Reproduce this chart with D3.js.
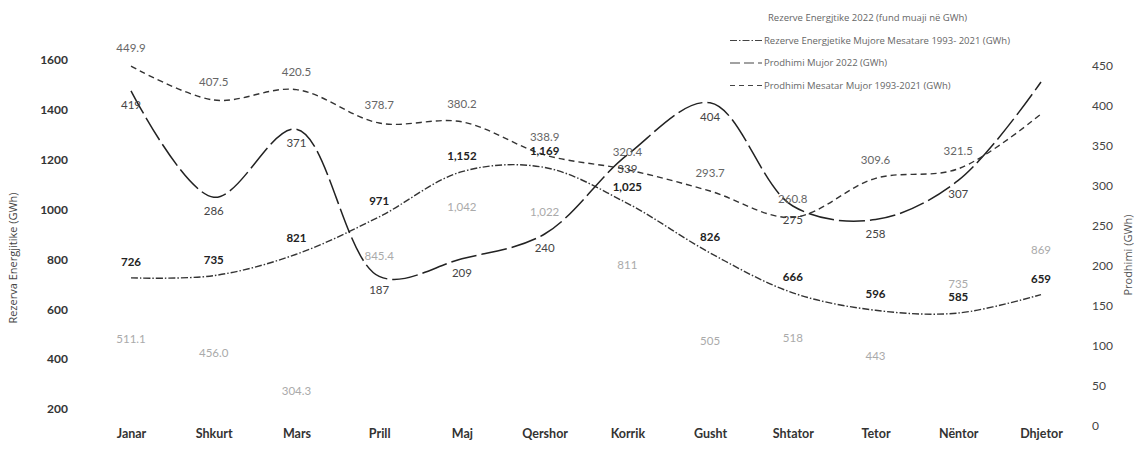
<!DOCTYPE html>
<html lang="en">
<head>
<meta charset="utf-8">
<script src="https://d3js.org/d3.v7.min.js"></script>
<style type="text/css">
body {
  margin: 0;
  background-color: #ffffff;
  font-family: Lato, "Open Sans", sans-serif;
}
.axis text {
  font: bold 12px Lato, sans-serif;
  fill: #333;
}
.axis path, .axis line { display: none; }
.legend text {
  font: 9.5px "Open Sans", sans-serif;
  fill: #666;
}
</style>
</head>
<body>
<script type="text/javascript">

// months
var months = ["Janar", "Shkurt", "Mars", "Prill", "Maj", "Qershor", "Korrik",
  "Gusht", "Shtator", "Tetor", "Nëntor", "Dhjetor"];

// reserves (left axis, GWh)
var rezMesatare = [726, 735, 821, 971, 1152, 1169, 1025, 826, 666, 596, 585, 659];
var rez2022 = [511.1, 456.0, 304.3, 845.4, 1042, 1022, 811, 505, 518, 443, 735, 869];
var rez2022Labels = ["511.1", "456.0", "304.3", "845.4", "1,042", "1,022", "811", "505", "518", "443", "735", "869"];

// production (right axis, GWh)
var prod2022 = [419, 286, 371, 187, 209, 240, 339, 404, 275, 258, 307, 430];
var prodMesatar = [449.9, 407.5, 420.5, 378.7, 380.2, 338.9, 320.4, 293.7, 260.8, 309.6, 321.5, 390];

var leftTicks = [200, 400, 600, 800, 1000, 1200, 1400, 1600];
var rightTicks = [0, 50, 100, 150, 200, 250, 300, 350, 400, 450];

var legendItems = [
  "Rezerve Energjtike  2022 (fund muaji në GWh)",
  "Rezerve Energjetike Mujore Mesatare 1993- 2021 (GWh)",
  "Prodhimi Mujor  2022 (GWh)",
  "Prodhimi Mesatar Mujor 1993-2021 (GWh)"
];

var width = 1139;
var height = 450;

var svg = d3.select("body")
  .append("svg")
  .attr("width", width)
  .attr("height", height);

var x = d3.scalePoint().domain(months).range([131, 1041]);
var yL = d3.scaleLinear().domain([200, 1600]).range([409, 60]);
var yR = d3.scaleLinear().domain([0, 450]).range([426, 66]);

// axes
svg.append("g")
  .attr("class", "axis")
  .attr("transform", "translate(72,0)")
  .call(d3.axisLeft(yL).tickValues(leftTicks).tickSize(0).tickPadding(4).tickFormat(d3.format("d")));

svg.append("g")
  .attr("class", "axis")
  .attr("transform", "translate(1088,0)")
  .call(d3.axisRight(yR).tickValues(rightTicks).tickSize(0).tickPadding(4))
  .selectAll("text").style("font-weight", "normal").style("fill", "#444");

svg.append("g")
  .attr("class", "axis")
  .attr("transform", "translate(0,423)")
  .call(d3.axisBottom(x).tickSize(0).tickPadding(6))
  .selectAll("text").style("font-size", "12.5px");

// axis titles
svg.append("text")
  .attr("transform", "translate(17,258) rotate(-90)")
  .attr("text-anchor", "middle")
  .style("font", "11px 'Open Sans', sans-serif")
  .style("fill", "#444")
  .text("Rezerva Energjitike (GWh)");

svg.append("text")
  .attr("transform", "translate(1132,255) rotate(-90)")
  .attr("text-anchor", "middle")
  .style("font", "11px 'Open Sans', sans-serif")
  .style("fill", "#555")
  .text("Prodhimi (GWh)");

// lines
var lineL = d3.line()
  .x(function(d, i) { return x(months[i]); })
  .y(function(d) { return yL(d); })
  .curve(d3.curveCatmullRom);

var lineR = d3.line()
  .x(function(d, i) { return x(months[i]); })
  .y(function(d) { return yR(d); })
  .curve(d3.curveCatmullRom);

svg.append("path").datum(rezMesatare)
  .attr("d", lineL).attr("fill", "none")
  .attr("stroke", "#333").attr("stroke-width", 1.4)
  .attr("stroke-dasharray", "7,2,1.5,2");

svg.append("path").datum(prod2022)
  .attr("d", lineR).attr("fill", "none")
  .attr("stroke", "#222").attr("stroke-width", 1.5)
  .attr("stroke-dasharray", "26,5");

svg.append("path").datum(prodMesatar)
  .attr("d", lineR).attr("fill", "none")
  .attr("stroke", "#333").attr("stroke-width", 1.4)
  .attr("stroke-dasharray", "6,4");

// value labels
function labels(data, scale, dy, fmt, color, weight, skipLast) {
  svg.append("g").selectAll("text")
    .data(skipLast ? data.slice(0, -1) : data)
    .enter()
    .append("text")
    .attr("x", function(d, i) { return x(months[i]); })
    .attr("y", function(d) { return scale(d) + dy; })
    .attr("text-anchor", "middle")
    .style("font-size", "11.5px")
    .style("font-weight", weight)
    .style("fill", color)
    .text(function(d, i) { return fmt(d, i); });
}

labels(rezMesatare, yL, -12, function(d) { return d3.format(",")(d); }, "#222", "bold", false);
labels(rez2022, yL, 12, function(d, i) { return rez2022Labels[i]; }, "#aaa", "normal", false);
labels(prod2022, yR, 18, function(d) { return d; }, "#444", "normal", true);
labels(prodMesatar, yR, -14, function(d) { return d3.format(".1f")(d); }, "#666", "normal", true);

// legend
var dashes = [null, "7,2,1.5,2", "10,4", "5,4"];
var legend = svg.append("g").attr("class", "legend");
legendItems.forEach(function(t, i) {
  var ly = 18 + i * 22.5;
  if (dashes[i]) {
    legend.append("line")
      .attr("x1", 730).attr("x2", 762)
      .attr("y1", ly).attr("y2", ly)
      .attr("stroke", "#444").attr("stroke-width", 1.2)
      .attr("stroke-dasharray", dashes[i]);
  }
  legend.append("text")
    .attr("x", i === 0 ? 768 : 764)
    .attr("y", ly + 3)
    .text(t);
});

</script>
</body>
</html>
